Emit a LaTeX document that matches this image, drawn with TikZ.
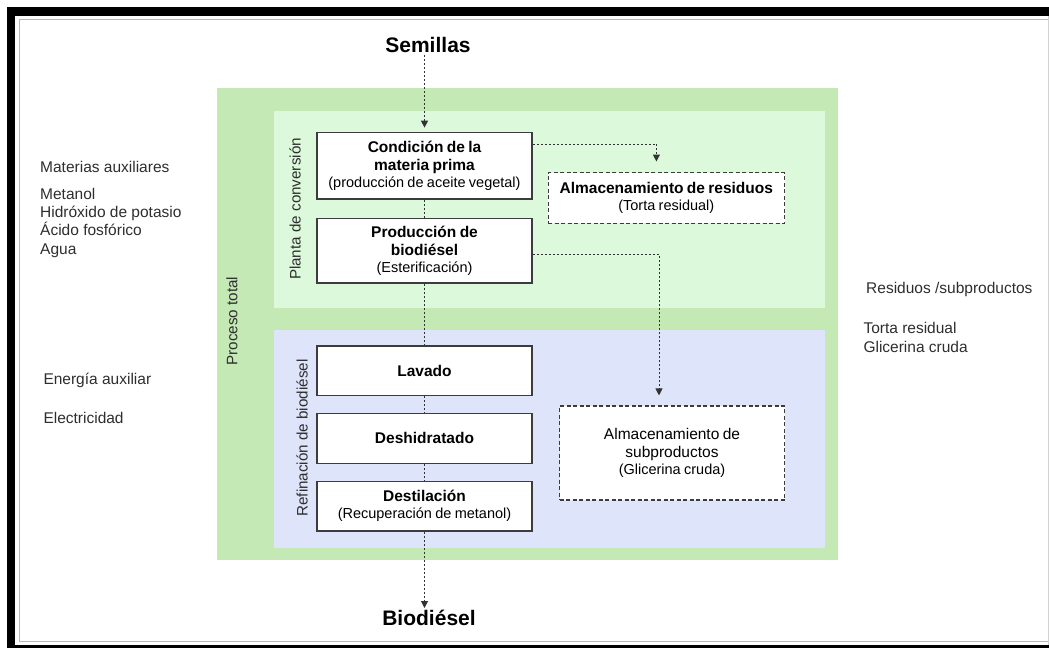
\documentclass[tikz,border=0pt]{standalone}
\usepackage{fontspec}
\setmainfont{Liberation Sans}
\usetikzlibrary{arrows.meta}
\definecolor{outergreen}{HTML}{C4E9B4}
\definecolor{innergreen}{HTML}{DDF9DC}
\definecolor{innerblue}{HTML}{DEE5FA}
\definecolor{boxline}{HTML}{3C3C3C}
\definecolor{flowline}{HTML}{333333}
\definecolor{sidegray}{HTML}{2E2E2E}
\newcommand\boxtitle{\fontsize{15.5}{18}\selectfont\bfseries}
\newcommand\boxsub{\fontsize{14.5}{17}\selectfont\mdseries}
\newcommand\boxplain{\fontsize{15.5}{17.5}\selectfont\mdseries}
\begin{document}
\begin{tikzpicture}[x=1pt,y=-1pt,
  procbox/.style={draw=boxline, line width=1.2pt, fill=white, minimum width=215pt,
    text width=210pt, align=center, inner sep=0pt},
  storebox/.style={draw=boxline, line width=1.1pt, dash pattern=on 4pt off 2.5pt,
    fill=white, align=center, inner sep=0pt},
  flow/.style={draw=flowline, line width=1pt, dash pattern=on 2pt off 2pt},
  flowarrow/.style={flow, -{Triangle[width=7pt,length=7pt]}},
  sidetext/.style={font=\fontsize{15.5}{18}\selectfont, anchor=base west,
    inner sep=0pt, text=sidegray},
  vlabel/.style={font=\fontsize{15.2}{18}\selectfont, rotate=90, inner sep=0pt,
    text=sidegray},
  endtext/.style={font=\fontsize{21}{24}\selectfont\bfseries, inner sep=2pt}]

% page and frame
\useasboundingbox (0,0) rectangle (1049,648);
\fill[white] (0,0) rectangle (1049,648);
\fill[black] (6.7,7.3) rectangle (1049,16);
\fill[black] (6.7,7.3) rectangle (15,648);
\fill[black] (6.7,645) rectangle (1049,648);
\draw[gray!55, line width=1pt] (1049,19.5) -- (19.5,19.5) -- (19.5,641) -- (1049,641);
\draw[gray!35, line width=0.8pt] (1048.5,16) -- (1048.5,645);

% process areas
\fill[outergreen] (217.3,88) rectangle (838,560);
\fill[innergreen] (274,110.7) rectangle (825,307.7);
\fill[innerblue] (274,330) rectangle (825,548.3);

% area labels
\node[vlabel] (total) at (232,321) {Proceso total};
\node[vlabel] (planta) at (295,209) {Planta de conversión};
\node[vlabel] (refin) at (302,438) {Refinación de biodiésel};

% process steps
\node[procbox, minimum height=66.3pt] (cond) at (424.5,165.9)
  {\boxtitle Condición de la\\ materia prima\par\boxsub (producción de aceite vegetal)\par};
\node[procbox, minimum height=64.7pt] (prod) at (424.5,250.7)
  {\boxtitle Producción de\\ biodiésel\par\boxsub (Esterificación)\par};
\node[procbox, minimum height=49.3pt] (lav) at (424.5,370.7)
  {\boxtitle Lavado\par};
\node[procbox, minimum height=50pt] (desh) at (424.5,438.3)
  {\boxtitle Deshidratado\par};
\node[procbox, minimum height=49.3pt] (dest) at (424.5,506.3)
  {\boxtitle Destilación\par\boxsub (Recuperación de metanol)\par};

% storage
\node[storebox, minimum width=236.5pt, minimum height=50.3pt, text width=232pt] (resid) at (666.3,197.9)
  {\boxtitle Almacenamiento de residuos\par\boxsub (Torta residual)\par};
\node[storebox, minimum width=225pt, minimum height=94pt, text width=220pt] (subp) at (672,453)
  {\boxplain Almacenamiento de\\ subproductos\par\boxsub (Glicerina cruda)\par};

% input and output
\node[endtext] (sem) at (428,45) {Semillas};
\node[endtext] (bio) at (429,618) {Biodiésel};

% main flow
\draw[flowarrow, shorten >=4.5pt] (sem.south -| cond.north) -- (cond.north);
\draw[flow] (cond.south) -- (prod.north);
\draw[flow] (prod.south) -- (lav.north);
\draw[flow] (lav.south) -- (desh.north);
\draw[flow] (desh.south) -- (dest.north);
\draw[flowarrow] (dest.south) -- (dest.south |- bio.north);

% side flows to storage
\draw[flowarrow] (cond.east |- 0,144) -| ([xshift=-9.9pt,yshift=10.7pt]resid.north);
\draw[flowarrow] (prod.east |- 0,254.3) -| ([xshift=-13pt,yshift=10pt]subp.north);

% auxiliary inputs
\node[sidetext] (mat) at (40,172.7) {Materias auxiliares};
\node[sidetext] (met) at (40,199.3) {Metanol};
\node[sidetext] (hid) at (40,217.6) {Hidróxido de potasio};
\node[sidetext] (aci) at (40,235.9) {Ácido fosfórico};
\node[sidetext] (agu) at (40,254.2) {Agua};
\node[sidetext] (ene) at (43.3,384.3) {Energía auxiliar};
\node[sidetext] (ele) at (43.3,423.7) {Electricidad};

% residues and by-products
\node[sidetext] (res) at (866,293.7) {Residuos /subproductos};
\node[sidetext] (tor) at (863.3,333.7) {Torta residual};
\node[sidetext] (gli) at (863.3,352) {Glicerina cruda};
\end{tikzpicture}
\end{document}
